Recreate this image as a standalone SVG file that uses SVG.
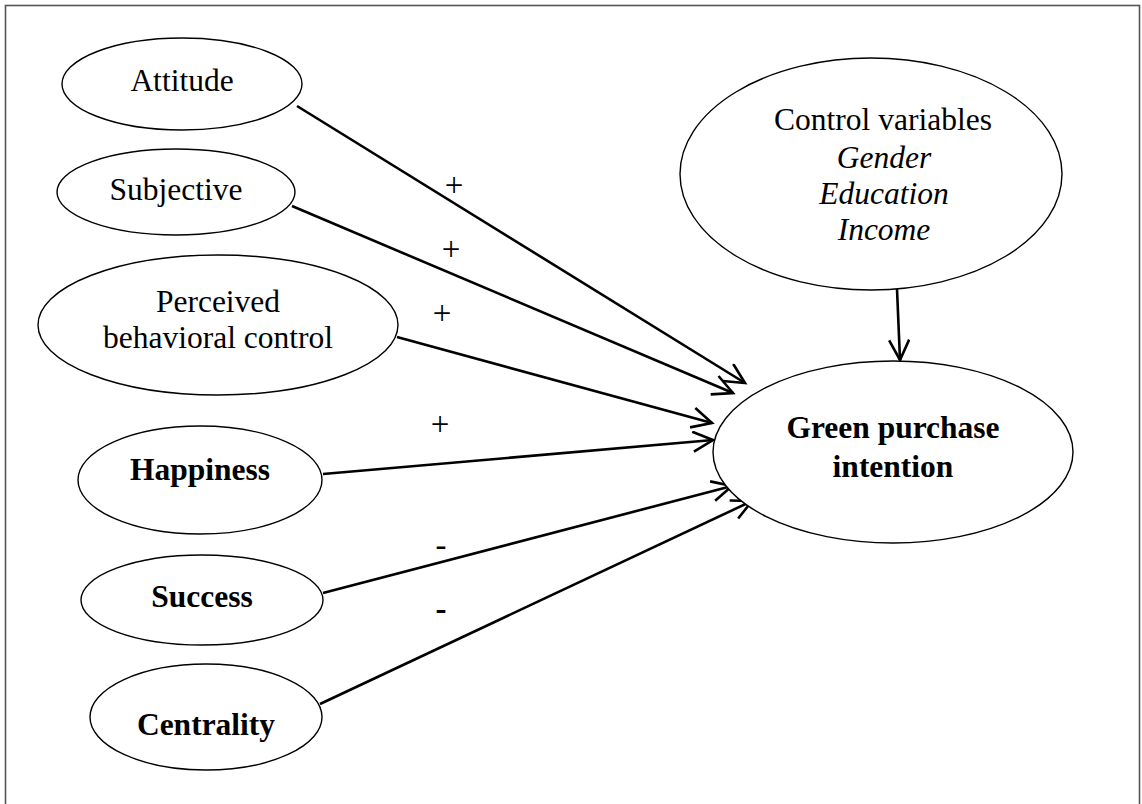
<svg xmlns="http://www.w3.org/2000/svg" width="1142" height="804" viewBox="0 0 1142 804">
<style>
.node{fill:#fff;stroke:#000;stroke-width:1.4}
.t{font-family:"Liberation Serif","Times New Roman",serif;font-size:31.5px;fill:#000;text-anchor:middle}
.b{font-weight:bold}
.i{font-style:italic}
.edge{stroke:#000;stroke-width:2.6;fill:none;marker-end:url(#arr)}
.lbl{font-family:"Liberation Serif","Times New Roman",serif;font-size:33px;fill:#000;text-anchor:middle}
</style>
<defs>
<marker id="arr" markerUnits="userSpaceOnUse" markerWidth="26" markerHeight="26" refX="21" refY="11" orient="auto">
<path d="M1,1 L21,11 L1,21" fill="none" stroke="#000" stroke-width="2.6"/>
</marker>
</defs>
<rect x="0" y="0" width="1142" height="804" fill="#fff"/>
<rect x="5.5" y="5.5" width="1134" height="810" fill="none" stroke="#555" stroke-width="1.6"/>
<g id="connectors">
<line class="edge" x1="297" y1="106" x2="745" y2="383"/>
<line class="edge" x1="292" y1="206" x2="733" y2="393"/>
<line class="edge" x1="397" y1="337" x2="712" y2="423"/>
<line class="edge" x1="323" y1="474" x2="713" y2="440"/>
<line class="edge" x1="323" y1="593" x2="732" y2="486"/>
<line class="edge" x1="320" y1="704" x2="752" y2="501"/>
<line class="edge" x1="897" y1="289" x2="900" y2="360"/>
<text class="lbl" x="454" y="196">+</text>
<text class="lbl" x="451" y="260">+</text>
<text class="lbl" x="442" y="324">+</text>
<text class="lbl" x="440" y="435">+</text>
<text class="lbl" x="441" y="556">-</text>
<text class="lbl b" x="441" y="620">-</text>
</g>
<g id="attitude"><ellipse class="node" cx="182" cy="84" rx="120" ry="46"/><text class="t" x="182" y="91">Attitude</text></g>
<g id="subjective"><ellipse class="node" cx="176" cy="192" rx="119" ry="43"/><text class="t" x="176" y="200">Subjective</text></g>
<g id="pbc"><ellipse class="node" cx="218" cy="325" rx="180" ry="70"/><text class="t" x="218" y="312">Perceived</text><text class="t" x="218" y="348">behavioral control</text></g>
<g id="happiness"><ellipse class="node" cx="200" cy="480" rx="122" ry="54"/><text class="t b" x="200" y="480">Happiness</text></g>
<g id="success"><ellipse class="node" cx="202" cy="600" rx="121" ry="45"/><text class="t b" x="202" y="607">Success</text></g>
<g id="centrality"><ellipse class="node" cx="206" cy="717" rx="116" ry="53"/><text class="t b" x="206" y="735">Centrality</text></g>
<g id="control"><ellipse class="node" cx="871" cy="174" rx="191" ry="116"/><text class="t" x="883" y="130">Control variables</text><text class="t i" x="884" y="168">Gender</text><text class="t i" x="884" y="204">Education</text><text class="t i" x="884" y="240">Income</text></g>
<g id="gpi"><ellipse class="node" cx="893" cy="452" rx="180" ry="91"/><text class="t b" x="893" y="438">Green purchase</text><text class="t b" x="893" y="477">intention</text></g>
</svg>
